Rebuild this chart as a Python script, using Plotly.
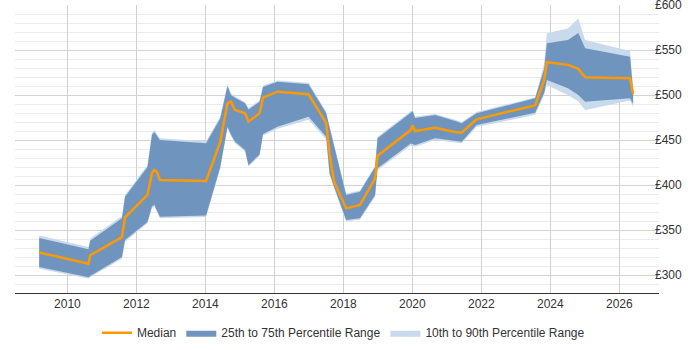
import plotly.graph_objects as go

years = [2009.18, 2010.61, 2010.66, 2011.58, 2011.67, 2012.32, 2012.45, 2012.52, 2012.59, 2012.68,
         2014.02, 2014.43, 2014.64, 2014.74, 2014.86, 2015.15, 2015.25, 2015.57, 2015.67, 2016.09,
         2016.99, 2017.50, 2017.60, 2017.73, 2018.08, 2018.48, 2018.92, 2018.99, 2019.95, 2020.01,
         2020.08, 2020.66, 2021.24, 2021.43, 2021.86, 2023.56, 2023.82, 2023.90, 2024.51, 2024.81,
         2025.01, 2026.31, 2026.40]

median = [325, 312.6, 322, 342, 364, 389, 413, 416.7, 414.8, 405.6,
          404.4, 448, 490.7, 492.6, 483.3, 479.6, 470.4, 479.6, 497, 503.7,
          500.8, 469, 435, 403.7, 374, 377.8, 407.4, 432.6, 461, 466,
          460, 463.7, 459, 458.2, 473, 488.5, 516.7, 536.5, 533.5, 529,
          519.6, 518.5, 501]

p25 = [309, 297.5, 299, 320, 339, 359, 376, 378, 372, 364.8,
       366, 420, 464.8, 456, 448, 438.9, 422, 434, 456.7, 464.8,
       475.9, 453.7, 413, 398, 361, 363, 388.9, 418.5, 446, 445,
       444.4, 451.9, 449, 448, 466.7, 480.3, 502.6, 516.7, 507.4, 500,
       492.6, 496.3, 490]

p75 = [341, 328.5, 338, 363, 387, 420, 455.5, 459, 455, 450,
       446.3, 474, 510, 500, 497, 490.7, 484, 492.6, 509, 514.8,
       512, 480, 464, 443.6, 389, 392.6, 420, 452, 479.6, 482,
       474.5, 477.8, 471, 468.5, 479.6, 496.3, 529, 557.4, 561, 569,
       552, 542.6, 505]

p10 = [307, 296, 297.5, 318, 337, 357.5, 374, 376.5, 370.5, 363,
       364.5, 418, 463, 454.5, 446.5, 437, 420.5, 432.5, 455, 462.5,
       472.5, 450.5, 411, 396, 359.5, 361.5, 387, 416.5, 444, 443,
       442.5, 450, 447.5, 446.5, 464.5, 478, 500, 511, 500, 493,
       483.3, 494, 487]

p90 = [344, 331, 340.5, 365.5, 389, 422, 457.5, 461, 457, 452,
       448.5, 476, 512, 502, 498.5, 492, 485.5, 494, 510.5, 516,
       513.5, 481.5, 465.5, 445, 390.5, 394, 421.5, 453.5, 481, 483.5,
       476, 479, 472.5, 470, 481, 497.5, 535, 568.5, 574, 585,
       561, 549, 508]

x_ticks = [2010, 2012, 2014, 2016, 2018, 2020, 2022, 2024, 2026]
y_ticks = [300, 350, 400, 450, 500, 550, 600]

LIGHT = "rgb(200,218,236)"
DARK = "rgb(111,149,190)"
ORANGE = "rgb(255,153,0)"

fig = go.Figure()
fig.add_trace(go.Scatter(x=years, y=p10, mode="lines", line=dict(width=0, color=LIGHT),
                         showlegend=False, hoverinfo="skip"))
fig.add_trace(go.Scatter(x=years, y=p90, mode="lines", line=dict(width=0, color=LIGHT),
                         fill="tonexty", fillcolor=LIGHT, name="10th to 90th Percentile Range",
                         legendrank=3))
fig.add_trace(go.Scatter(x=years, y=p25, mode="lines", line=dict(width=0, color=DARK),
                         showlegend=False, hoverinfo="skip"))
fig.add_trace(go.Scatter(x=years, y=p75, mode="lines", line=dict(width=0, color=DARK),
                         fill="tonexty", fillcolor=DARK, name="25th to 75th Percentile Range",
                         legendrank=2))
fig.add_trace(go.Scatter(x=years, y=median, mode="lines", line=dict(width=2.5, color=ORANGE),
                         name="Median", legendrank=1))

fig.update_layout(
    width=700, height=350,
    margin=dict(l=15, r=41, t=5, b=57, autoexpand=False),
    paper_bgcolor="white", plot_bgcolor="white",
    font=dict(family="Liberation Sans, Arial, sans-serif", size=12, color="#333"),
    showlegend=True,
    legend=dict(orientation="h", x=0.51, xanchor="center", y=-0.138, yanchor="middle",
                font=dict(size=12, color="#333"), traceorder="normal", itemwidth=30),
    xaxis=dict(range=[2008.48, 2027.15], tickvals=x_ticks, ticktext=[str(v) for v in x_ticks],
               showgrid=True, gridcolor="#d0d0d0", gridwidth=1, automargin=False,
               showline=True, linecolor="#333", linewidth=1, zeroline=False,
               ticks="", tickfont=dict(size=12, color="#333")),
    yaxis=dict(range=[280, 600], side="right", tickvals=y_ticks, automargin=False,
               ticktext=["£" + str(v) for v in y_ticks], ticklabeloverflow="allow",
               ticklabelstandoff=-5,
               showgrid=True, gridcolor="#d3d3d3", gridwidth=1, zeroline=False,
               minor=dict(dtick=10, tick0=0, showgrid=True, gridcolor="#ebebeb", gridwidth=1),
               ticks="", tickfont=dict(size=12, color="#333")),
)

fig.write_html("out.html")
